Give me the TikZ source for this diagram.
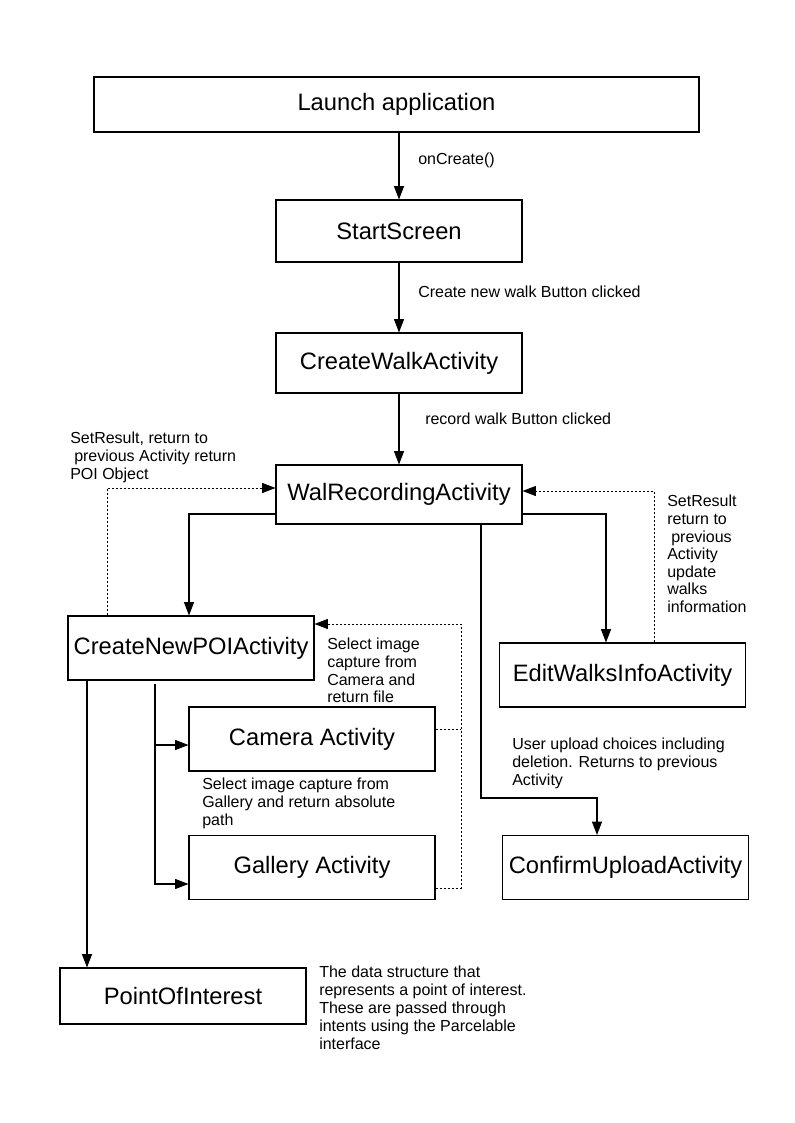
\documentclass[tikz,border=0pt]{standalone}
\usepackage{fontspec}
\setmainfont{Liberation Sans}
\usetikzlibrary{arrows.meta,positioning}

\begin{document}
\begin{tikzpicture}[x=0.75pt,y=-0.75pt,
    box/.style={draw, line width=0.8pt, minimum width=184.5pt, minimum height=48pt,
      inner sep=0pt, font=\fontsize{17.8}{20}\selectfont},
    note/.style={anchor=north west, align=left, inner sep=0pt, font=\fontsize{12}{13.2}\selectfont},
    arr/.style={line width=0.8pt, -{Triangle[length=10pt,width=7.5pt]}},
    darr/.style={line width=0.7pt, dash pattern=on 1.5pt off 1.5pt, -{Triangle[length=10pt,width=7.5pt]}},
    dline/.style={line width=0.7pt, dash pattern=on 1.5pt off 1.5pt}]
    \useasboundingbox (0,0) rectangle (794,1123);

    % Main column
    \node[box, minimum width=453.75pt, minimum height=41.25pt] (launch) at (396.5,104.5) {Launch application};
    \node[box, minimum height=46.5pt] (start)  at (399,231)   {StartScreen};
    \node[box, minimum height=45pt]   (create) at (399,363)   {CreateWalkActivity};
    \node[box, minimum height=44.25pt] (walrec) at (399,494.5) {WalRecordingActivity};

    % Activities started from the recording screen
    \node[box] (poi)     at (191,648)     {CreateNewPOIActivity};
    \node[box] (edit)    at (622.5,675)   {EditWalksInfoActivity};
    \node[box] (camera)  at (312,739)     {Camera Activity};
    \node[box] (gallery) at (312,867.5)   {Gallery Activity};
    \node[box] (confirm) at (625.5,867.5) {ConfirmUploadActivity};
    \node[box, minimum height=42pt] (point) at (183,996) {PointOfInterest};

    % Main flow
    \draw[arr] (start.north |- launch.south) -- (start.north);
    \draw[arr] (create.north |- start.south) -- (create.north);
    \draw[arr] (walrec.north |- create.south) -- (walrec.north);
    \node[note] (lbloncreate) at (418,153) {onCreate()};
    \node[note] (lblnewwalk)  at (418,286) {Create new walk Button clicked};
    \node[note] (lblrecord)   at (425,413) {record walk Button clicked};

    % Recording screen to POI / edit / upload
    \draw[arr] (walrec.west |- 0,514) -| (poi.north -| 189,0);
    \draw[darr] (poi.north -| 107,0) |- (walrec.west |- 0,488);
    \draw[arr] (walrec.east |- 0,514) -| (edit.north -| 606,0);
    \draw[darr] (edit.north -| 654,0) |- (walrec.east |- 0,491);
    \draw[arr] (walrec.south -| 481,0) |- (597,798) -- (confirm.north -| 597,0);

    \node[note] (lblpoiback) at (70,432)
      {SetResult, return to\\\hspace*{3pt}previous Activity return\\POI Object};
    \node[note] (lbleditback) at (667,495)
      {SetResult\\return to\\\hspace*{3pt}previous\\Activity\\update\\walks\\information};
    \node[note] (lblupload) at (512,738)
      {User upload choices including\\deletion. Returns to previous\\Activity};

    % Image capture
    \coordinate (fork) at (155,684);
    \draw[arr] (fork) |- (gallery.west |- 0,884);
    \draw[arr] (fork |- 0,745) -- (camera.west |- 0,745);
    \draw[dline] (camera.east |- 0,729) -- (461,729);
    \draw[darr] (gallery.east |- 0,888) -| (461,624) -- (poi.east |- 0,624);

    \node[note] (lblcamera) at (327,638)
      {Select image\\capture from\\Camera and\\return file};
    \node[note] (lblgallery) at (202,778)
      {Select image capture from\\Gallery and return absolute\\path};

    % Data structure
    \draw[arr] (poi.south -| 87,0) -- (point.north -| 87,0);
    \node[note, font=\fontsize{12}{13.5}\selectfont] (lblpoint) at (319,966)
      {The data structure that\\represents a point of interest.\\These are passed through\\intents using the Parcelable\\interface};
\end{tikzpicture}
\end{document}
